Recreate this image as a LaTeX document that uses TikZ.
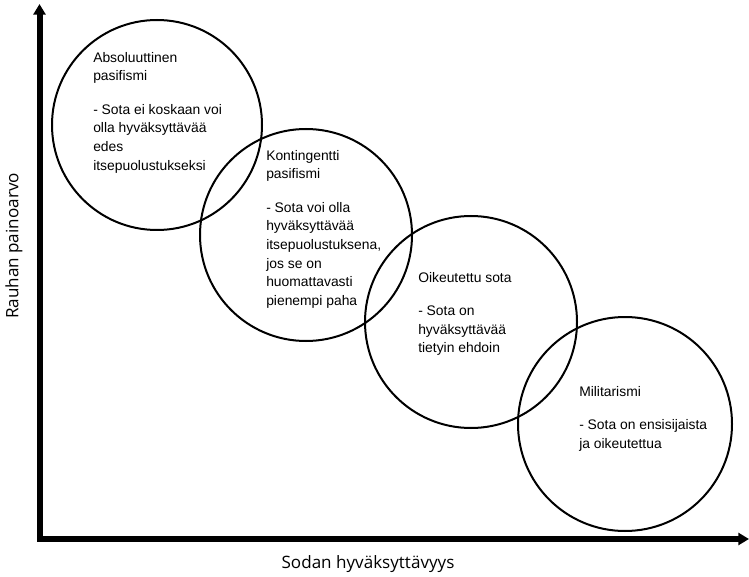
\documentclass[tikz,border=0pt]{standalone}
\usepackage{fontspec}
\setmainfont{Liberation Sans}
\newfontfamily\axisfont{Open Sans}
\usetikzlibrary{arrows.meta}
\begin{document}
\begin{tikzpicture}[x=0.75pt,y=-0.75pt,
  ring/.style={draw, circle, line width=1.5pt, inner sep=0pt},
  body/.style={anchor=north west, inner sep=0pt, align=left, font=\fontsize{10.4}{14}\selectfont},
  axisline/.style={line width=4.5pt, line join=miter, {Triangle[length=8pt,width=9pt]}-{Triangle[length=8pt,width=9pt]}},
  axlabel/.style={font=\axisfont\fontsize{12.8}{15}\selectfont, inner sep=0pt}]
\useasboundingbox (0,0) rectangle (749,577);
% axes
\coordinate (ytip) at (39.5,4);
\coordinate (origin) at (39.5,539);
\coordinate (xtip) at (749,539);
\draw[axisline] (ytip) -- (origin) -- (xtip);
% circles
\node[ring, minimum size=157.5pt] (c1) at (157,125) {};
\node[ring, minimum size=159pt] (c2) at (306,235) {};
\node[ring, minimum size=159pt] (c3) at (471,322) {};
\node[ring, minimum size=160.5pt] (c4) at (625,424) {};
% texts
\node[body] (t1) at (93,52) {Absoluuttinen\\pasifismi\\[11pt]- Sota ei koskaan voi\\olla hyväksyttävää\\edes\\itsepuolustukseksi};
\node[body] (t2) at (266,150) {Kontingentti\\pasifismi\\[11pt]- Sota voi olla\\hyväksyttävää\\itsepuolustuksena,\\jos se on\\huomattavasti\\pienempi paha};
\node[body] (t3) at (418,272) {Oikeutettu sota\\[11pt]- Sota on\\hyväksyttävää\\tietyin ehdoin};
\node[body] (t4) at (579,386) {Militarismi\\[11pt]- Sota on ensisijaista\\ja oikeutettua};
% axis labels
\node[axlabel] (xl) at (368,564) {Sodan hyväksyttävyys};
\node[axlabel, rotate=90] (yl) at (14,246) {Rauhan painoarvo};
\end{tikzpicture}
\end{document}
